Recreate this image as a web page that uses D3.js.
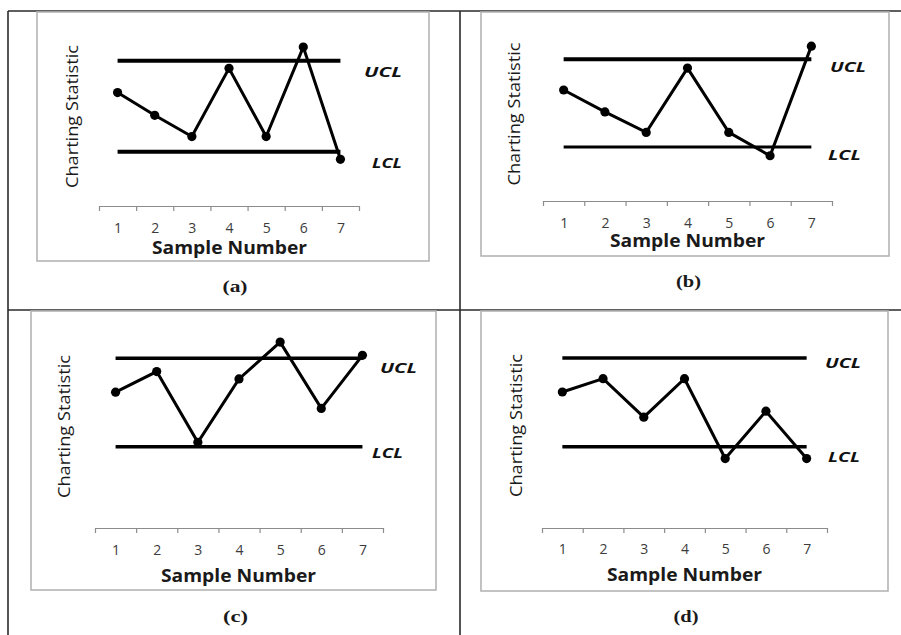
<!DOCTYPE html>
<html>
<head>
<meta charset="utf-8">
<script src="https://cdn.jsdelivr.net/npm/d3@7/dist/d3.min.js"></script>
<style>
  html, body { margin: 0; padding: 0; background: #fff; }
  svg { display: block; }
</style>
</head>
<body>
<svg id="chart" width="901" height="635"></svg>
<script>
// Sample numbers on the x axis
const samples = [1, 2, 3, 4, 5, 6, 7];
const panelIds = ["a", "b", "c", "d"];

// Charting statistic per sample, one series per panel
const valuesA = [5.9, 4.4, 3.0, 7.5, 3.0, 8.9, 1.5];
const valuesB = [5.9, 4.4, 3.0, 7.4, 3.0, 1.4, 8.9];
const valuesC = [5.7, 7.1, 2.3, 6.6, 9.1, 4.6, 8.2];
const valuesD = [5.7, 6.6, 4.0, 6.6, 1.2, 4.4, 1.2];

// Control limits
const uclValue = 8;
const lclValue = 2;

// Text
const yTitle = "Charting Statistic";
const xTitle = "Sample Number";
const uclText = "UCL";
const lclText = "LCL";

const seriesById = { a: valuesA, b: valuesB, c: valuesC, d: valuesD };

// Panel geometry (pixels)
const layout = {
  a: { box: [37, 12, 429, 261], ax: [99, 359, 206], yU: 60.7, yL: 151.7, wU: 4, wL: 4, wS: 3,
       tickBase: 232.5, xt: [229.5, 254], yt: [78, 116.5], uL: [364, 77, 38], lL: [372, 168, 30], cap: [235, 292.3] },
  b: { box: [481, 12, 889, 256], ax: [543, 832, 201], yU: 59.3, yL: 147, wU: 4, wL: 3, wS: 3,
       tickBase: 227.5, xt: [687.5, 247], yt: [520, 114], uL: [830, 72, 36], lL: [828, 160, 33], cap: [688.5, 287.3] },
  c: { box: [31, 311, 436, 590], ax: [95, 383, 528], yU: 358.3, yL: 446.7, wU: 3.4, wL: 3.4, wS: 3,
       tickBase: 555, xt: [238.5, 582], yt: [70, 426.5], uL: [380, 373, 37], lL: [372, 458, 31], cap: [235.5, 622.3] },
  d: { box: [481, 311, 888, 591], ax: [542, 827, 528], yU: 358, yL: 446.7, wU: 3.4, wL: 3.4, wS: 3,
       tickBase: 554.3, xt: [684.5, 580.5], yt: [522, 425.5], uL: [825, 368, 36], lL: [828, 462, 32], cap: [686, 621.7] }
};

const svg = d3.select("#chart");
svg.append("rect").attr("width", 901).attr("height", 635).attr("fill", "#fff");

const SANS = "'Open Sans', 'DejaVu Sans', sans-serif";
const SERIF = "'Liberation Serif', 'Times New Roman', serif";

// Table frame around the four panels
const frame = svg.append("g").attr("stroke", "#2a2a2a").attr("stroke-width", 1.6).attr("fill", "none");
frame.append("line").attr("x1", 8).attr("x2", 901).attr("y1", 11).attr("y2", 11);
frame.append("line").attr("x1", 8).attr("x2", 8).attr("y1", 11).attr("y2", 635);
frame.append("line").attr("x1", 460).attr("x2", 460).attr("y1", 11).attr("y2", 635);
frame.append("line").attr("x1", 8).attr("x2", 901).attr("y1", 310).attr("y2", 310);

panelIds.forEach(id => {
  const L = layout[id];
  const values = seriesById[id];
  const g = svg.append("g").attr("class", "panel-" + id);

  // Chart-area border
  g.append("rect")
    .attr("x", L.box[0]).attr("y", L.box[1])
    .attr("width", L.box[2] - L.box[0]).attr("height", L.box[3] - L.box[1])
    .attr("fill", "none").attr("stroke", "#b4b4b4").attr("stroke-width", 1.6);

  // Category scale: samples sit in the middle of equal bands
  const x = d3.scalePoint().domain(samples).range([L.ax[0], L.ax[1]]).padding(0.5);
  const edge = d3.scaleLinear().domain([0.5, 7.5]).range([L.ax[0], L.ax[1]]);
  const y = d3.scaleLinear().domain([lclValue, uclValue]).range([L.yL, L.yU]);

  // Axis line with ticks on the band boundaries
  const axisG = g.append("g").attr("transform", `translate(0,${L.ax[2]})`)
    .call(d3.axisBottom(edge).tickValues(d3.range(0.5, 8, 1)).tickSizeInner(5).tickSizeOuter(0).tickFormat(""));
  axisG.select(".domain").attr("stroke", "#8c8c8c").attr("stroke-width", 1.2);
  axisG.selectAll(".tick line").attr("stroke", "#8c8c8c").attr("stroke-width", 1.2);

  // Sample labels centred in each band
  const labG = g.append("g").attr("transform", `translate(0,${L.ax[2]})`)
    .call(d3.axisBottom(x).tickSize(0).tickFormat(d3.format("d")));
  labG.select(".domain").remove();
  labG.selectAll(".tick text")
    .attr("y", L.tickBase - L.ax[2]).attr("dy", 0)
    .attr("fill", "#3c3c3c").attr("font-size", 14).attr("font-family", SANS);

  // Control limit lines
  [[uclValue, L.wU], [lclValue, L.wL]].forEach(([v, w]) => {
    g.append("line")
      .attr("x1", x(samples[0])).attr("x2", x(samples[samples.length - 1]))
      .attr("y1", y(v)).attr("y2", y(v))
      .attr("stroke", "#000").attr("stroke-width", w);
  });

  // Charting statistic series
  const line = d3.line().x((d, i) => x(samples[i])).y(d => y(d));
  g.append("path").datum(values)
    .attr("d", line).attr("fill", "none")
    .attr("stroke", "#000").attr("stroke-width", L.wS).attr("stroke-linejoin", "miter");
  g.selectAll("circle.pt").data(values).join("circle")
    .attr("class", "pt")
    .attr("cx", (d, i) => x(samples[i])).attr("cy", d => y(d))
    .attr("r", 4.6).attr("fill", "#000");

  // Limit labels
  g.append("text").text(uclText)
    .attr("x", L.uL[0]).attr("y", L.uL[1]).attr("textLength", L.uL[2]).attr("lengthAdjust", "spacingAndGlyphs")
    .attr("font-family", SANS).attr("font-weight", "bold").attr("font-style", "italic")
    .attr("font-size", 15).attr("fill", "#111");
  g.append("text").text(lclText)
    .attr("x", L.lL[0]).attr("y", L.lL[1]).attr("textLength", L.lL[2]).attr("lengthAdjust", "spacingAndGlyphs")
    .attr("font-family", SANS).attr("font-weight", "bold").attr("font-style", "italic")
    .attr("font-size", 15).attr("fill", "#111");

  // Axis titles
  g.append("text").text(xTitle)
    .attr("x", L.xt[0]).attr("y", L.xt[1]).attr("text-anchor", "middle")
    .attr("textLength", 155).attr("lengthAdjust", "spacingAndGlyphs")
    .attr("font-family", SANS).attr("font-weight", "bold").attr("font-size", 17).attr("fill", "#1a1a1a");
  g.append("text").text(yTitle)
    .attr("transform", `translate(${L.yt[0]},${L.yt[1]}) rotate(-90)`)
    .attr("text-anchor", "middle")
    .attr("textLength", 143).attr("lengthAdjust", "spacingAndGlyphs")
    .attr("font-family", SANS).attr("font-size", 17).attr("fill", "#1a1a1a");

  // Panel caption
  g.append("text").text(`(${id})`)
    .attr("x", L.cap[0]).attr("y", L.cap[1]).attr("text-anchor", "middle")
    .attr("textLength", 25).attr("lengthAdjust", "spacingAndGlyphs")
    .attr("font-family", SERIF).attr("font-weight", "bold").attr("font-size", 16).attr("fill", "#1a1a1a");
});
</script>
</body>
</html>
